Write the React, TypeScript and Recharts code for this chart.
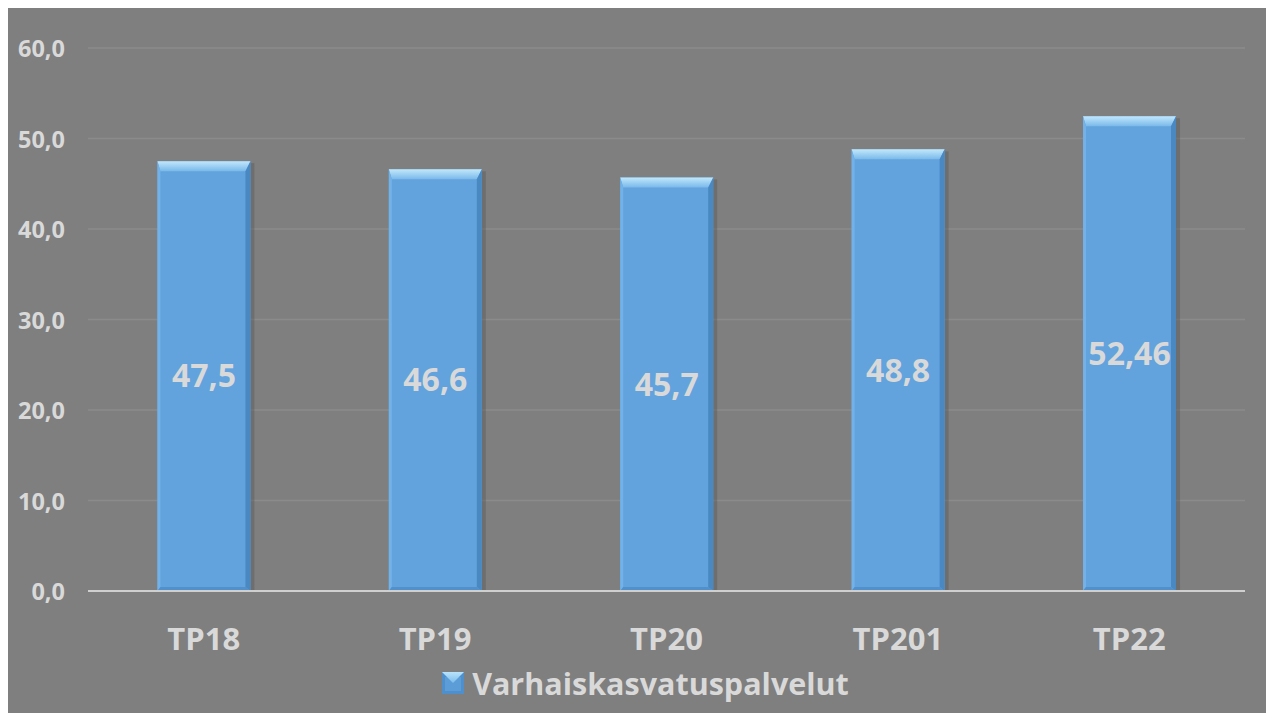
import React from 'react';
import { BarChart, Bar, XAxis, YAxis, CartesianGrid, LabelList, Legend } from 'recharts';

const categories = ['TP18', 'TP19', 'TP20', 'TP201', 'TP22'];
const seriesName = 'Varhaiskasvatuspalvelut';
const values = [47.5, 46.6, 45.7, 48.8, 52.46];
const yTicks = [0, 10, 20, 30, 40, 50, 60];

const data = categories.map((c, i) => ({ name: c, value: values[i] }));

const BG = '#7f7f7f';
const TXT = '#d9d9d9';
const FONT = '"Open Sans", Lato, sans-serif';

const BevelBar = (props: any) => {
  const { x, y, width: w, height: h } = props;
  if (!h || h <= 0) return null;
  const t = 10;
  const r = 5;
  const l = 3;
  const b = 4;
  return (
    <g>
      <rect x={x + 2} y={y + 2} width={w + 2} height={h - 2} fill="#5a5a5a" opacity={0.45} />
      <rect x={x} y={y} width={w} height={h} fill="#62a3de" />
      <polygon points={`${x},${y} ${x + w},${y} ${x + w - r},${y + t} ${x + l},${y + t}`} fill="url(#topBevel)" />
      <polygon points={`${x + w},${y} ${x + w},${y + h} ${x + w - r},${y + h - b} ${x + w - r},${y + t}`} fill="#4a88c2" />
      <polygon points={`${x},${y} ${x + l},${y + t} ${x + l},${y + h - b} ${x},${y + h}`} fill="#72b2e8" />
      <polygon points={`${x},${y + h} ${x + w},${y + h} ${x + w - r},${y + h - b} ${x + l},${y + h - b}`} fill="#5190cb" />
    </g>
  );
};

const YTick = (props: any) => {
  const { y, payload } = props;
  return (
    <text x={61} y={y} textAnchor="end" dominantBaseline="central" fill={TXT} fontSize={23.5} fontWeight={700} fontFamily={FONT}>
      {Number(payload.value).toFixed(1).replace('.', ',')}
    </text>
  );
};

const XTick = (props: any) => {
  const { x, payload } = props;
  return (
    <text x={x} y={642} textAnchor="middle" fill={TXT} fontSize={31} fontWeight={700} fontFamily={FONT}>
      {payload.value}
    </text>
  );
};

const LegendContent = () => (
  <div style={{ display: 'flex', alignItems: 'center', justifyContent: 'center', height: 60, marginLeft: 42 }}>
    <svg width={22} height={22} style={{ marginRight: 8 }}>
      <defs>
        <linearGradient id="legTop" x1="0" y1="0" x2="0" y2="1">
          <stop offset="0" stopColor="#b8e4fb" />
          <stop offset="1" stopColor="#7cbbec" />
        </linearGradient>
      </defs>
      <rect x={0} y={0} width={22} height={22} fill="#4f8fcb" />
      <rect x={3} y={5} width={16} height={14} fill="#5d9ed9" opacity={0.9} />
      <polygon points="0,0 22,0 11,11" fill="url(#legTop)" />
    </svg>
    <span style={{ color: TXT, fontSize: 30.5, fontWeight: 700, fontFamily: FONT, lineHeight: '32px' }}>{seriesName}</span>
  </div>
);

export default function App() {
  return (
    <div style={{ marginLeft: -4, width: 1270, height: 705, background: BG }}>
      <BarChart
        width={1270}
        height={705}
        data={data}
        margin={{ top: 40, right: 29, left: 0, bottom: 0 }}
        barCategoryGap="30%"
      >
        <defs>
          <linearGradient id="topBevel" x1="0" y1="0" x2="0" y2="1">
            <stop offset="0" stopColor="#c2e8fc" />
            <stop offset="1" stopColor="#7ab9ea" />
          </linearGradient>
        </defs>
        <CartesianGrid vertical={false} stroke="#8b8b8b" strokeWidth={1.5} />
        <XAxis
          dataKey="name"
          height={62}
          axisLine={{ stroke: '#cfcfcf', strokeWidth: 2 }}
          tickLine={false}
          tick={<XTick />}
          interval={0}
        />
        <YAxis
          width={84}
          domain={[0, 60]}
          ticks={yTicks}
          axisLine={false}
          tickLine={false}
          tick={<YTick />}
        />
        <Legend verticalAlign="bottom" height={60} content={<LegendContent />} />
        <Bar dataKey="value" name={seriesName} shape={<BevelBar />} isAnimationActive={false}>
          <LabelList
            dataKey="value"
            position="center"
            formatter={(v: any) => String(v).replace('.', ',')}
            fill={TXT}
            fontSize={32}
            fontWeight={700}
            fontFamily={FONT}
          />
        </Bar>
      </BarChart>
    </div>
  );
}
